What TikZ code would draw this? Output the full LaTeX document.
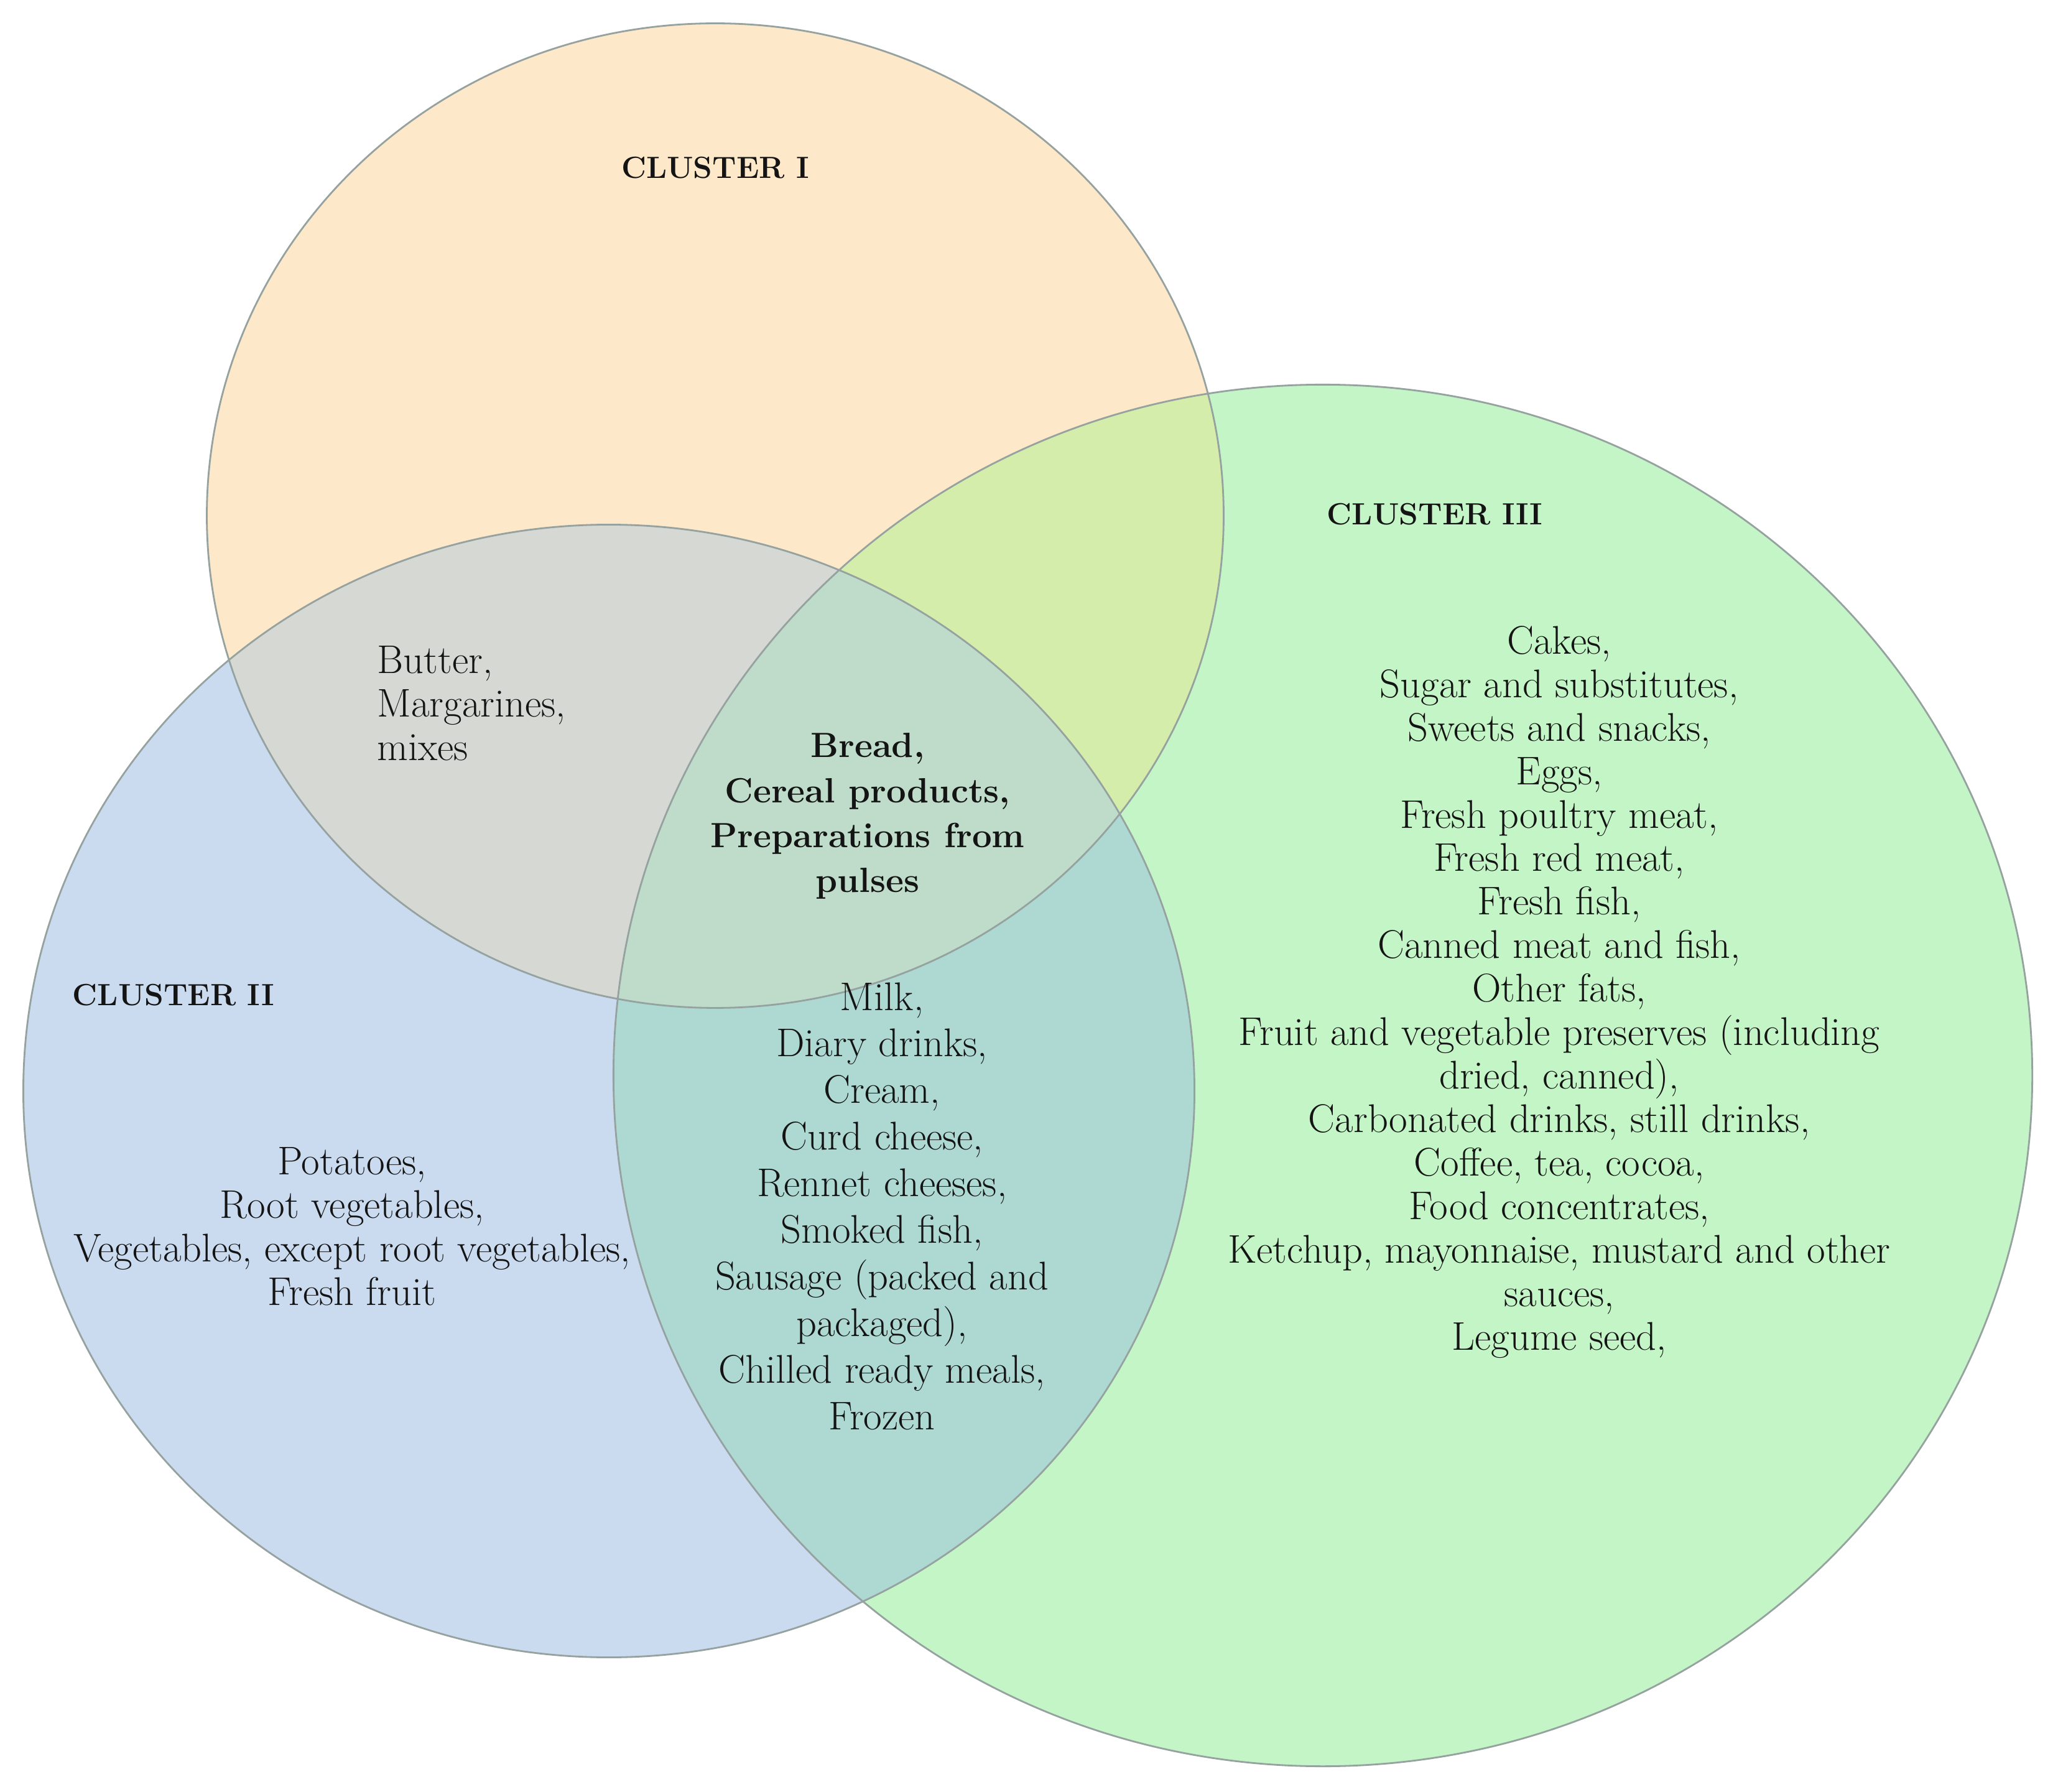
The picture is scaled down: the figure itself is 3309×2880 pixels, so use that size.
\documentclass[tikz,border=0pt]{standalone}
\usepackage{fontspec}
\definecolor{orgfill}{HTML}{FDE8C9}
\definecolor{bluefill}{HTML}{CADBF0}
\definecolor{grnfill}{HTML}{C4F5C6}
\definecolor{grayfill}{HTML}{D5D8D3}
\definecolor{limefill}{HTML}{D5EDAA}
\definecolor{tealfill}{HTML}{AED9D3}
\definecolor{centerfill}{HTML}{BEDCC9}
\definecolor{edgecol}{HTML}{96A2A0}
\definecolor{txt}{HTML}{141414}
\begin{document}
\begin{tikzpicture}[x=0.01cm,y=0.01cm,
  edge/.style={draw=edgecol, line width=0.8pt},
  lbl/.style={inner sep=0pt, align=center, text=txt, font=\fontsize{18.3}{19.9}\selectfont},
  title/.style={inner sep=0pt, text=txt, font=\fontsize{14}{17}\selectfont\bfseries}]
\useasboundingbox (0,0) rectangle (3309,2880);
\fill[white] (0,0) rectangle (3309,2880);
\def\Orange{(1150,2051) ellipse [x radius=8.17cm, y radius=7.91cm]}
\def\Blue{(979,1126) ellipse [x radius=9.41cm, y radius=9.10cm]}
\def\Green{(2127,1151) ellipse [x radius=11.40cm, y radius=11.10cm]}
\fill[orgfill] \Orange;
\fill[bluefill] \Blue;
\fill[grnfill] \Green;
\begin{scope}\clip \Orange; \fill[grayfill] \Blue; \end{scope}
\begin{scope}\clip \Orange; \fill[limefill] \Green; \end{scope}
\begin{scope}\clip \Blue; \fill[tealfill] \Green; \end{scope}
\begin{scope}\clip \Orange; \clip \Blue; \fill[centerfill] \Green; \end{scope}
\draw[edge] \Orange;
\draw[edge] \Blue;
\draw[edge] \Green;
\node[title] (c1) at (1150,2610) {CLUSTER I};
\node[title] (c3) at (2307,2053) {CLUSTER III};
\node[title, anchor=west] (c2) at (116,1280) {CLUSTER II};
\node[lbl, align=left, anchor=west] (ob) at (606,1749) {Butter,\\Margarines,\\mixes};
\node[lbl, font=\fontsize{16}{20.5}\selectfont\bfseries] (core) at (1395,1568) {Bread,\\Cereal products,\\Preparations from\\pulses};
\node[lbl, font=\fontsize{18.3}{21.3}\selectfont] (bg) at (1418,941) {Milk,\\Diary drinks,\\Cream,\\Curd cheese,\\Rennet cheeses,\\Smoked fish,\\Sausage (packed and\\packaged),\\Chilled ready meals,\\Frozen};
\node[lbl] (c2list) at (566,908) {Potatoes,\\Root vegetables,\\Vegetables, except root vegetables,\\Fresh fruit};
\node[lbl] (c3list) at (2507,1285) {Cakes,\\Sugar and substitutes,\\Sweets and snacks,\\Eggs,\\Fresh poultry meat,\\Fresh red meat,\\Fresh fish,\\Canned meat and fish,\\Other fats,\\Fruit and vegetable preserves (including\\dried, canned),\\Carbonated drinks, still drinks,\\Coffee, tea, cocoa,\\Food concentrates,\\Ketchup, mayonnaise, mustard and other\\sauces,\\Legume seed,};
\end{tikzpicture}
\end{document}
